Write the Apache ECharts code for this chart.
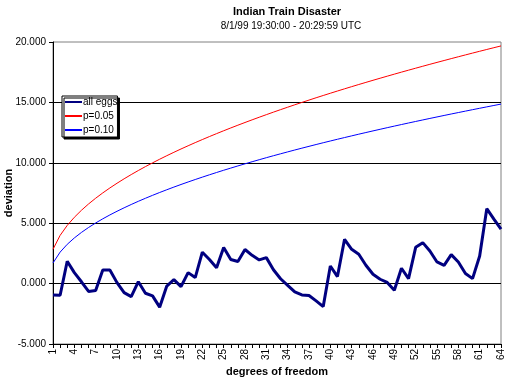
<!DOCTYPE html>
<html>
<head>
<meta charset="utf-8">
<script src="https://cdn.jsdelivr.net/npm/echarts@6/dist/echarts.min.js"></script>
<style>
  html, body { margin: 0; padding: 0; background: #fff; }
  #main { width: 508px; height: 377px; }
</style>
</head>
<body>
<div id="main"></div>
<script>
// degrees of freedom 1..64
var categories = [];
for (var d = 1; d <= 64; d++) categories.push(String(d));

// observed deviation
var allEggs = [-0.95, -0.97, 1.85, 0.91, 0.15, -0.65, -0.58, 1.13, 1.13, 0.08,
  -0.75, -1.08, 0.16, -0.8, -1.02, -1.95, -0.2, 0.33, -0.25, 0.91,
  0.5, 2.6, 2.0, 1.32, 2.98, 2.0, 1.83, 2.82, 2.34, 1.96,
  2.15, 1.15, 0.4, -0.14, -0.69, -0.94, -0.99, -1.43, -1.9, 1.46,
  0.58, 3.67, 2.84, 2.43, 1.52, 0.77, 0.36, 0.1, -0.55, 1.27,
  0.41, 3.0, 3.39, 2.7, 1.79, 1.51, 2.4, 1.79, 0.83, 0.41,
  2.29, 6.2, 5.33, 4.5];

// p = 0.05 threshold
var p05 = [2.841, 3.991, 4.815, 5.488, 6.070, 6.592, 7.067, 7.507, 7.919, 8.307,
  8.675, 9.026, 9.362, 9.685, 9.996, 10.296, 10.587, 10.869, 11.144, 11.410,
  11.671, 11.924, 12.172, 12.415, 12.652, 12.885, 13.113, 13.337, 13.557, 13.773,
  13.985, 14.194, 14.400, 14.602, 14.802, 14.998, 15.192, 15.384, 15.572, 15.758,
  15.942, 16.124, 16.304, 16.481, 16.656, 16.830, 17.001, 17.171, 17.339, 17.505,
  17.669, 17.832, 17.993, 18.153, 18.311, 18.468, 18.624, 18.778, 18.931, 19.082,
  19.232, 19.381, 19.529, 19.675];

// p = 0.10 threshold
var p10 = [1.706, 2.605, 3.251, 3.779, 4.236, 4.645, 5.017, 5.362, 5.684, 5.987,
  6.275, 6.549, 6.812, 7.064, 7.307, 7.542, 7.769, 7.989, 8.204, 8.412,
  8.615, 8.813, 9.007, 9.196, 9.382, 9.563, 9.741, 9.916, 10.087, 10.256,
  10.422, 10.585, 10.745, 10.903, 11.059, 11.212, 11.363, 11.513, 11.660, 11.805,
  11.949, 12.090, 12.230, 12.369, 12.505, 12.641, 12.774, 12.907, 13.038, 13.167,
  13.295, 13.422, 13.548, 13.673, 13.796, 13.919, 14.040, 14.160, 14.279, 14.397,
  14.514, 14.630, 14.745, 14.860];

var font = "Arial, 'Liberation Sans', sans-serif";

var myChart = echarts.init(document.getElementById("main"), null, { renderer: "canvas" });

myChart.setOption({
  animation: false,
  backgroundColor: "#fff",
  textStyle: { fontFamily: font },
  title: [
    {
      text: "Indian Train Disaster",
      left: 282, top: 1, textAlign: "center",
      textStyle: { fontSize: 11, fontWeight: "bold", color: "#000", fontFamily: font }
    },
    {
      text: "8/1/99 19:30:00 - 20:29:59 UTC",
      left: 286, top: 16, textAlign: "center",
      textStyle: { fontSize: 10, fontWeight: "normal", color: "#000", fontFamily: font }
    }
  ],
  legend: {
    orient: "vertical",
    left: 62, top: 96,
    data: ["all eggs", "p=0.05", "p=0.10"],
    itemWidth: 17, itemHeight: 10, itemGap: 4,
    padding: [1, 0, 2, 2],
    backgroundColor: "#fff",
    borderColor: "#000", borderWidth: 1, borderRadius: 0,
    shadowColor: "#000", shadowOffsetX: 2, shadowOffsetY: 2, shadowBlur: 0,
    itemStyle: { opacity: 0 },
    textStyle: { fontSize: 10, color: "#000", fontFamily: font, padding: [0, 0, 0, -4] }
  },
  grid: {
    left: 53, right: 7, top: 42, bottom: 33,
    outerBoundsMode: "none",
    containLabel: false,
    show: true, borderColor: "#808080", borderWidth: 1, backgroundColor: "transparent"
  },
  xAxis: {
    type: "category",
    data: categories,
    boundaryGap: false,
    name: "degrees of freedom",
    nameLocation: "middle",
    nameGap: 22,
    nameMoveOverlap: false,
    nameTextStyle: { fontSize: 11, fontWeight: "bold", color: "#000", fontFamily: font },
    axisLine: { onZero: false, lineStyle: { color: "#000", width: 1 } },
    axisTick: { interval: 0, length: 4, lineStyle: { color: "#000" } },
    axisLabel: { interval: 2, rotate: 90, margin: 5, fontSize: 10, color: "#000", fontFamily: font },
    splitLine: { show: false }
  },
  yAxis: {
    type: "value",
    min: -5, max: 20, interval: 5,
    name: "deviation",
    nameLocation: "middle",
    nameGap: 39,
    nameMoveOverlap: false,
    nameTextStyle: { fontSize: 11, fontWeight: "bold", color: "#000", fontFamily: font },
    axisLine: { show: true, lineStyle: { color: "#000", width: 1 } },
    axisTick: { show: true, length: 4, lineStyle: { color: "#000" } },
    axisLabel: {
      margin: 7, fontSize: 10, color: "#000", fontFamily: font,
      formatter: function (v) { return v.toFixed(3); }
    },
    splitLine: { show: true, showMaxLine: false, lineStyle: { color: "#000", width: 1 } }
  },
  series: [
    {
      name: "all eggs", type: "line", data: allEggs,
      symbol: "none", z: 4,
      lineStyle: { color: "#000080", width: 3 },
      itemStyle: { color: "#000080" }
    },
    {
      name: "p=0.05", type: "line", data: p05,
      symbol: "none", z: 3,
      lineStyle: { color: "#ff0000", width: 1 },
      itemStyle: { color: "#ff0000" }
    },
    {
      name: "p=0.10", type: "line", data: p10,
      symbol: "none", z: 3,
      lineStyle: { color: "#0000ff", width: 1 },
      itemStyle: { color: "#0000ff" }
    }
  ]
});
</script>
</body>
</html>
